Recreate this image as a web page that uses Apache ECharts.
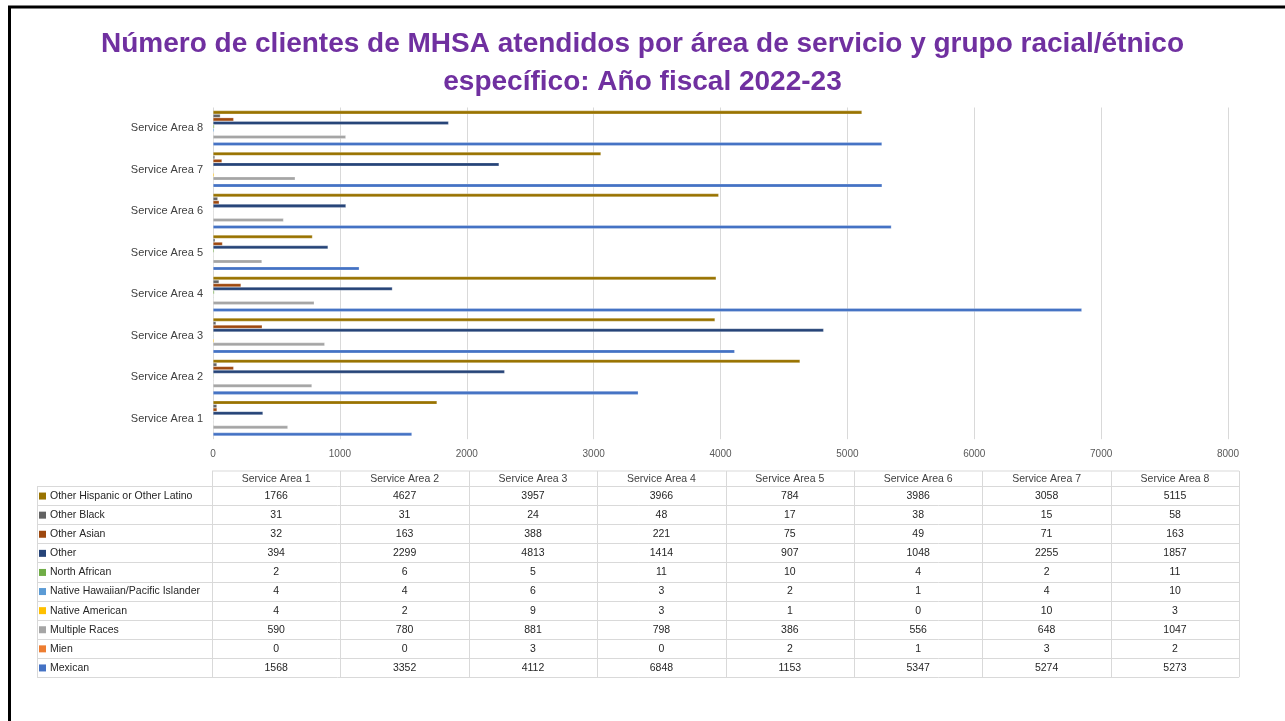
<!DOCTYPE html>
<html>
<head>
<meta charset="utf-8">
<title>Clientes de MHSA por área de servicio</title>
<script src="https://cdn.jsdelivr.net/npm/echarts@6/dist/echarts.min.js"></script>
<style>
  html, body { margin: 0; padding: 0; background: #ffffff; }
  #chart { width: 1285px; height: 721px; }
</style>
</head>
<body>
<div id="chart"></div>
<script>
// Service areas (y-axis categories and table columns)
const categories = ['Service Area 1', 'Service Area 2', 'Service Area 3', 'Service Area 4',
                    'Service Area 5', 'Service Area 6', 'Service Area 7', 'Service Area 8'];

// Client counts per racial/ethnic group, one value per service area
const otherHispanic  = [1766, 4627, 3957, 3966, 784, 3986, 3058, 5115];
const otherBlack     = [31, 31, 24, 48, 17, 38, 15, 58];
const otherAsian     = [32, 163, 388, 221, 75, 49, 71, 163];
const other          = [394, 2299, 4813, 1414, 907, 1048, 2255, 1857];
const northAfrican   = [2, 6, 5, 11, 10, 4, 2, 11];
const nativeHawaiian = [4, 4, 6, 3, 2, 1, 4, 10];
const nativeAmerican = [4, 2, 9, 3, 1, 0, 10, 3];
const multipleRaces  = [590, 780, 881, 798, 386, 556, 648, 1047];
const mien           = [0, 0, 3, 0, 2, 1, 3, 2];
const mexican        = [1568, 3352, 4112, 6848, 1153, 5347, 5274, 5273];

// Value-axis tick labels
const xTicks = [0, 1000, 2000, 3000, 4000, 5000, 6000, 7000, 8000];

// Title lines
const titleLines = ['Número de clientes de MHSA atendidos por área de servicio y grupo racial/étnico',
                    'específico: Año fiscal 2022-23'];

const groups = [
  { name: 'Other Hispanic or Other Latino',   color: '#997300', data: otherHispanic },
  { name: 'Other Black',                      color: '#636363', data: otherBlack },
  { name: 'Other Asian',                      color: '#9E480E', data: otherAsian },
  { name: 'Other',                            color: '#264478', data: other },
  { name: 'North African',                    color: '#70AD47', data: northAfrican },
  { name: 'Native Hawaiian/Pacific Islander', color: '#5B9BD5', data: nativeHawaiian },
  { name: 'Native American',                  color: '#FFC000', data: nativeAmerican },
  { name: 'Multiple Races',                   color: '#A5A5A5', data: multipleRaces },
  { name: 'Mien',                             color: '#ED7D31', data: mien },
  { name: 'Mexican',                          color: '#4472C4', data: mexican }
];

const FONT = 'Liberation Sans, Arial, sans-serif';
const W = 1285;

// Plot area
const plotLeft = 213, plotRight = 1228, plotTop = 107.5, plotHeight = 331.7;

// Data table geometry
const tblLabelLeft = 37, tblColLeft = 212, tblColW = 128.4;
const tblHeadTop = 471, tblBodyTop = 486, tblRowH = 19.1;
const tblRight = tblColLeft + tblColW * categories.length;
const tblBottom = tblBodyTop + tblRowH * groups.length;
const gridGray = '#d9d9d9';

const graphics = [];

// Frame lines along the top and left edges
graphics.push({ type: 'line', shape: { x1: 8, y1: 7, x2: W, y2: 7 },
  style: { stroke: '#000', lineWidth: 3 }, z: 100 });
graphics.push({ type: 'line', shape: { x1: 9.5, y1: 6, x2: 9.5, y2: 721 },
  style: { stroke: '#000', lineWidth: 3 }, z: 100 });

// Table borders
graphics.push({ type: 'line', shape: { x1: tblColLeft, y1: tblHeadTop, x2: tblRight, y2: tblHeadTop },
  style: { stroke: gridGray, lineWidth: 1 } });
for (let i = 0; i <= groups.length; i++) {
  const y = Math.round(tblBodyTop + i * tblRowH) + 0.5;
  graphics.push({ type: 'line', shape: { x1: tblLabelLeft, y1: y, x2: tblRight, y2: y },
    style: { stroke: gridGray, lineWidth: 1 } });
}
graphics.push({ type: 'line', shape: { x1: tblLabelLeft + 0.5, y1: tblBodyTop, x2: tblLabelLeft + 0.5, y2: tblBottom },
  style: { stroke: gridGray, lineWidth: 1 } });
for (let j = 0; j <= categories.length; j++) {
  const x = Math.round(tblColLeft + j * tblColW) + 0.5;
  graphics.push({ type: 'line', shape: { x1: x, y1: tblHeadTop, x2: x, y2: tblBottom },
    style: { stroke: gridGray, lineWidth: 1 } });
}

// Column headers
categories.forEach((c, j) => {
  graphics.push({ type: 'text', x: tblColLeft + (j + 0.5) * tblColW, y: (tblHeadTop + tblBodyTop) / 2 + 0.5,
    style: { text: c, fill: '#404040', font: '10.5px ' + FONT, align: 'center', verticalAlign: 'middle' } });
});

// Rows: legend key, group name and values
groups.forEach((g, i) => {
  const cy = tblBodyTop + (i + 0.5) * tblRowH + 0.5;
  graphics.push({ type: 'rect', shape: { x: 39, y: cy - 3.5, width: 7, height: 7 },
    style: { fill: g.color } });
  graphics.push({ type: 'text', x: 50, y: cy,
    style: { text: g.name, fill: '#262626', font: '10.5px ' + FONT, align: 'left', verticalAlign: 'middle' } });
  g.data.forEach((v, j) => {
    graphics.push({ type: 'text', x: tblColLeft + (j + 0.5) * tblColW, y: cy,
      style: { text: String(v), fill: '#262626', font: '10.5px ' + FONT, align: 'center', verticalAlign: 'middle' } });
  });
});

const chart = echarts.init(document.getElementById('chart'), null, { renderer: 'canvas' });

const titleStyle = { fontFamily: FONT, fontSize: 28, fontWeight: 'bold', color: '#7030A0' };

chart.setOption({
  backgroundColor: '#ffffff',
  animation: false,
  title: titleLines.map((t, k) => ({
    text: t,
    left: 'center',
    top: 30 + k * 38,
    padding: 0,
    textStyle: titleStyle
  })),
  grid: { left: plotLeft, right: W - plotRight, top: plotTop, height: plotHeight, containLabel: false },
  xAxis: {
    type: 'value',
    min: xTicks[0],
    max: xTicks[xTicks.length - 1],
    interval: xTicks[1] - xTicks[0],
    axisLine: { show: false },
    axisTick: { show: false },
    splitLine: { show: true, lineStyle: { color: gridGray, width: 1 } },
    axisLabel: { color: '#595959', fontSize: 10, fontFamily: FONT, margin: 10, formatter: v => String(v) }
  },
  yAxis: {
    type: 'category',
    data: categories,
    axisLine: { show: false },
    axisTick: { show: false },
    axisLabel: { color: '#404040', fontSize: 11, fontFamily: FONT, margin: 10 }
  },
  series: groups.map(g => ({
    name: g.name,
    type: 'bar',
    data: g.data,
    barGap: '0%',
    barCategoryGap: '15%',
    itemStyle: { color: g.color, borderColor: 'rgba(255,255,255,0.5)', borderWidth: 0.5 }
  })),
  graphic: graphics
});
</script>
</body>
</html>
